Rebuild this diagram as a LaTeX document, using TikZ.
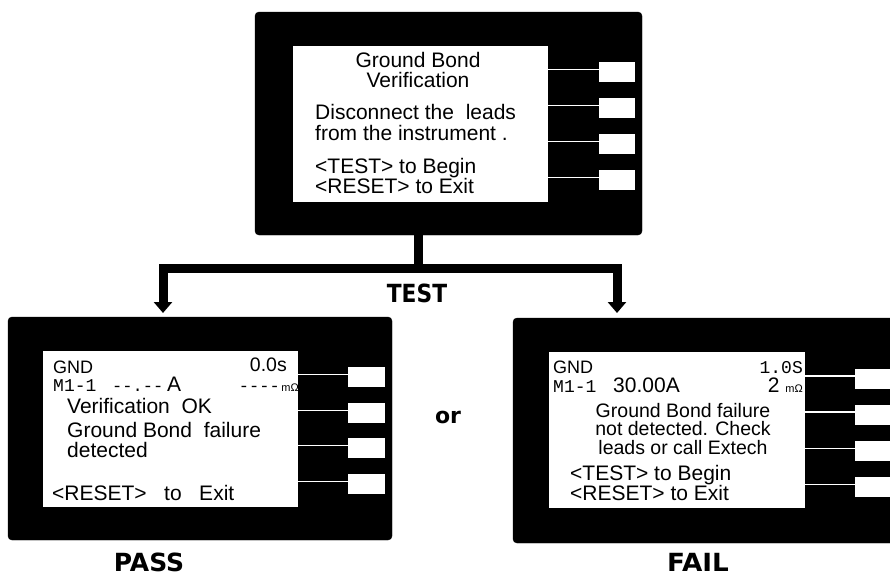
\documentclass[tikz,border=0pt]{standalone}
\usepackage{fontspec}
\setmainfont{Liberation Sans}
\newfontfamily\monof{Liberation Mono}
\newfontfamily\heavyf{DejaVu Sans}
\usetikzlibrary{arrows.meta}
\begin{document}
\begin{tikzpicture}[x=1pt,y=-1pt,
  panel/.style={fill=black, draw=black, rounded corners=4pt, inner sep=0pt, outer sep=0pt},
  screen/.style={fill=white, draw=none, inner sep=0pt, outer sep=0pt, minimum width=255pt, minimum height=156pt},
  btn/.style={fill=white, draw=none, inner sep=0pt, outer sep=0pt, minimum width=37pt, minimum height=20pt},
  lead/.style={draw=white, line width=1.5pt},
  txt/.style={inner sep=0pt, text height=0.72em, text depth=0.12em},
  lcd/.style={txt, font=\fontsize{21}{21}\selectfont},
  lcdt/.style={txt, font=\fontsize{19.5}{19.5}\selectfont},
  lcds/.style={txt, font=\fontsize{18}{18}\selectfont},
  lcdm/.style={txt, font=\monof\fontsize{18}{18}\selectfont},
  tiny/.style={txt, font=\fontsize{11}{11}\selectfont},
  big/.style={inner sep=0pt, font=\heavyf\bfseries\fontsize{25}{25}\selectfont},
  bus/.style={line width=9pt, line join=miter},
  tipA/.tip={Triangle[width=18pt,length=11pt]}
]
\useasboundingbox (0,0) rectangle (890,576);
\clip (0,0) rectangle (890,576);

% ---------- top panel ----------
\node[panel, minimum width=387pt, minimum height=223pt] (topp) at (448.5,123.5) {};
\node[screen] (tops) at (420.5,124) {};
\node[btn, minimum width=36pt] (topb1) at (617,72) {};
\node[btn, minimum width=36pt] (topb2) at (617,108) {};
\node[btn, minimum width=36pt] (topb3) at (617,144) {};
\node[btn, minimum width=36pt] (topb4) at (617,180) {};
\foreach \b in {topb1,topb2,topb3,topb4}
  \draw[lead] ([yshift=2.5pt]\b.west) -- ([yshift=2.5pt]\b.west -| tops.east);
\node[lcd, anchor=base] (t1) at (418,67) {Ground Bond};
\node[lcd, anchor=base] (t2) at (418,87) {Verification};
\node[lcd, anchor=base west] (t3) at (315,119) {Disconnect the\ \ leads};
\node[lcd, anchor=base west] (t4) at (315,140) {from the instrument .};
\node[lcd, anchor=base west] (t5) at (315,173) {<TEST> to Begin};
\node[lcd, anchor=base west] (t6) at (315,193) {<RESET> to Exit};

% ---------- left panel (PASS) ----------
\node[panel, minimum width=384pt, minimum height=223pt] (leftp) at (200,428.5) {};
\node[screen] (lefts) at (170.5,429) {};
\node[btn] (leftb1) at (366.5,377) {};
\node[btn] (leftb2) at (366.5,413) {};
\node[btn] (leftb3) at (366.5,448) {};
\node[btn] (leftb4) at (366.5,484) {};
\foreach \b in {leftb1,leftb2,leftb3,leftb4}
  \draw[lead] ([yshift=2.5pt]\b.west) -- ([yshift=2.5pt]\b.west -| lefts.east);
\node[lcds, anchor=base west] (l1) at (53,373) {GND};
\node[lcdt, anchor=base east] (l2) at (287,371) {0.0s};
\node[lcdm, anchor=base west] (l3) at (53,391) {M1-1};
\node[lcdm, anchor=base west, font=\monof\fontsize{17}{17}\selectfont] (l4) at (112,391) {-{}-.-{}-};
\node[lcd, anchor=base west] (l5) at (167,391) {A};
\node[lcdm, anchor=base east, font=\monof\fontsize{17}{17}\selectfont] (l6) at (280,391) {-{}-{}-{}-};
\node[tiny, anchor=base east] (l7) at (299,391) {mΩ};
\node[lcd, anchor=base west] (l8) at (67,413) {Verification\ \ OK};
\node[lcd, anchor=base west] (l9) at (67,437) {Ground Bond\ \ failure};
\node[lcd, anchor=base west] (l10) at (67,457) {detected};
\node[lcd, anchor=base west] (l11) at (52,500) {<RESET>\ \ \ to\ \ \ Exit};

% ---------- right panel (FAIL) ----------
\node[panel, minimum width=387pt, minimum height=225pt] (rightp) at (706.5,430.5) {};
\node[screen, minimum width=256pt] (rights) at (677,430) {};
\node[btn] (rightb1) at (873.5,378.5) {};
\node[btn] (rightb2) at (873.5,414.5) {};
\node[btn] (rightb3) at (873.5,451) {};
\node[btn] (rightb4) at (873.5,487) {};
\foreach \b in {rightb1,rightb2,rightb3,rightb4}
  \draw[lead] ([yshift=2.5pt]\b.west) -- ([yshift=2.5pt]\b.west -| rights.east);
\node[lcds, anchor=base west] (r1) at (553,373) {GND};
\node[lcdm, anchor=base east] (r2) at (803,373) {1.0S};
\node[lcdm, anchor=base west] (r3) at (553,392) {M1-1};
\node[lcd, anchor=base west] (r4) at (613,392) {30.00A};
\node[lcd, anchor=base east] (r5) at (803,392) {2 {\fontsize{11}{11}\selectfont mΩ}};
\node[lcdt, anchor=base] (r6) at (683,417) {Ground Bond failure};
\node[lcdt, anchor=base] (r7) at (683,435) {not detected. Check};
\node[lcdt, anchor=base] (r8) at (683,454) {leads or call Extech};
\node[lcd, anchor=base west] (r9) at (570,480) {<TEST> to Begin};
\node[lcd, anchor=base west] (r10) at (570,500) {<RESET> to Exit};

% ---------- connectors ----------
\coordinate (jm) at (418,268);
\coordinate (jl) at (163,268);
\coordinate (jr) at (617,268);
\draw[bus] (jm |- topp.south) -- (jm);
\draw[bus, tipA-tipA, shorten <=4pt, shorten >=5pt]
  (jl |- leftp.north) -- (jl) -- (jr) -- (jr |- rightp.north);

% ---------- labels ----------
\node[big, anchor=base] (testlbl) at (417,302) {\scalebox{0.87}[1]{TEST}};
\node[big, anchor=base] (orlbl) at (448,423) {\fontsize{22}{22}\selectfont or};
\node[big, anchor=base] (passlbl) at (149,571) {PASS};
\node[big, anchor=base] (faillbl) at (698,571) {\scalebox{1.05}[1]{FAIL}};
\end{tikzpicture}
\end{document}
